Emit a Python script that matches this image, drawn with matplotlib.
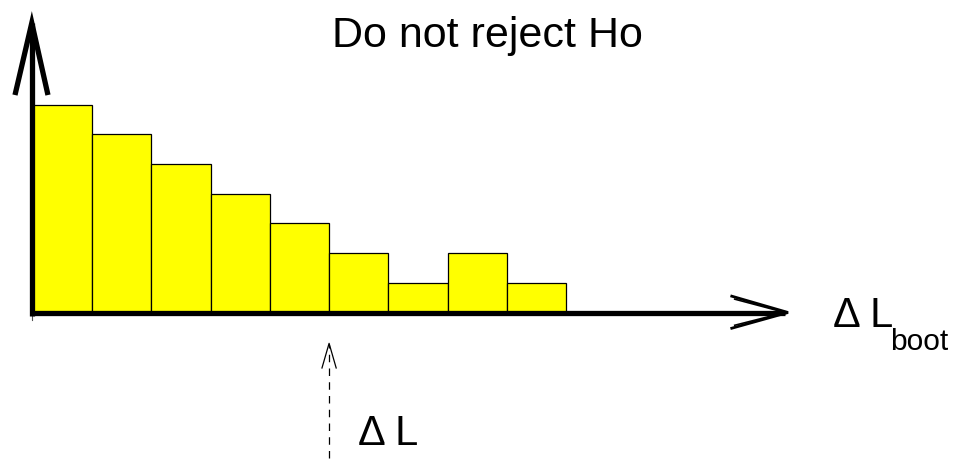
import numpy as np
import matplotlib
matplotlib.use('Agg')
import matplotlib.pyplot as plt

# histogram of bootstrap Delta L values
counts = [7, 6, 5, 4, 3, 2, 1, 2, 1]
bin_edges = np.arange(len(counts))  # left edges, unit width
observed = 5.0  # observed Delta L

title = 'Do not reject Ho'
label_obs = '\u0394 L'
label_boot = '\u0394 L'
label_boot_sub = 'boot'

FONT = ['Liberation Sans', 'DejaVu Sans']

fig = plt.figure(figsize=(9.59, 4.61), dpi=100)
ax = fig.add_axes([0, 0, 1, 1])
ax.set_xlim(-0.557, 15.637)
ax.set_ylim(-5.005, 10.533)
ax.axis('off')

ax.bar(bin_edges, counts, width=1.0, align='edge', color='#ffff00',
       edgecolor='black', linewidth=0.9, zorder=2)

# axes drawn as thick arrows
ax.plot([-0.02, -0.02], [-0.12, 9.76], color='black', lw=3.8,
        solid_capstyle='butt', zorder=3)
ax.plot([-0.304, -0.02, 0.253], [7.33, 9.76, 7.33], color='black', lw=3.8,
        solid_joinstyle='miter', solid_capstyle='butt', zorder=3)
ax.plot([-0.02, 12.7], [0, 0], color='black', lw=3.8,
        solid_capstyle='butt', zorder=3)
ax.plot([11.80, 12.75, 11.80], [0.55, 0, -0.53], color='black', lw=2.0,
        solid_joinstyle='miter', zorder=3)
ax.plot([11.85, 12.70, 11.85], [0.45, 0, -0.43], color='black', lw=1.2,
        solid_joinstyle='miter', zorder=3)
ax.plot([-0.02, -0.02], [-0.1, -0.25], color='#555555', lw=0.8, zorder=1)

# observed value: dashed arrow from below
ax.plot([observed, observed], [-4.90, -1.10], color='black', lw=0.9,
        linestyle=(0, (6, 5)), zorder=3)
ax.plot([observed - 0.12, observed, observed + 0.12], [-1.87, -1.04, -1.87],
        color='black', lw=0.9, zorder=3)

ax.text(7.675, 8.95, title, ha='center', va='baseline', fontsize=31,
        family=FONT)
ax.text(5.49, -4.47, label_obs, ha='left', va='baseline', fontsize=30,
        family=FONT)
ax.text(13.51, -0.49, label_boot, ha='left', va='baseline', fontsize=30,
        family=FONT)
ax.text(14.47, -1.26, label_boot_sub, ha='left', va='baseline', fontsize=21.5,
        family=FONT)

fig.savefig('out.png', dpi=100)
